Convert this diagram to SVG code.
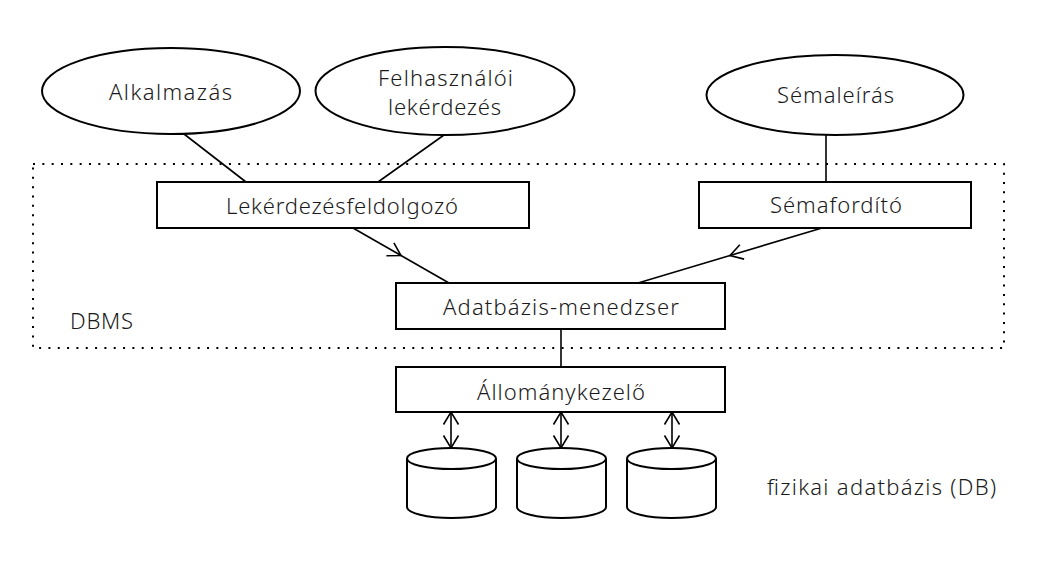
<svg xmlns="http://www.w3.org/2000/svg" width="1056" height="572" viewBox="0 0 1056 572">
<style>
.shape{fill:#fff;stroke:#000;stroke-width:2}
.line{fill:none;stroke:#000;stroke-width:1.6}
.lbl{font-family:"Noto Sans","Liberation Sans",sans-serif;font-size:22px;font-weight:300;fill:#1a1a1a;text-anchor:middle}
.plain{font-family:"Noto Sans","Liberation Sans",sans-serif;font-size:22px;font-weight:300;fill:#1a1a1a}
</style>
<defs>
<marker id="arr" markerUnits="userSpaceOnUse" markerWidth="20" markerHeight="20" refX="14" refY="10" orient="auto" viewBox="0 0 20 20">
<path d="M1.5,2.5 L14,10 L1.5,17.5" fill="none" stroke="#000" stroke-width="1.6"/>
</marker>
<marker id="arrS" markerUnits="userSpaceOnUse" markerWidth="20" markerHeight="20" refX="14" refY="10" orient="auto-start-reverse" viewBox="0 0 20 20">
<path d="M1.5,2.5 L14,10 L1.5,17.5" fill="none" stroke="#000" stroke-width="1.6"/>
</marker>
</defs>
<rect id="dbms-boundary" x="33" y="164" width="971" height="184" fill="none" stroke="#000" stroke-width="2" stroke-dasharray="2 7.33"/>
<g id="connectors">
<line class="line" x1="184" y1="134" x2="246" y2="182"/>
<line class="line" x1="444" y1="135" x2="378" y2="182"/>
<line class="line" x1="826" y1="135" x2="826" y2="182"/>
<path class="line" d="M353,228 L401,255.5 L449,283" marker-mid="url(#arr)"/>
<path class="line" d="M822,228 L730,255.5 L638,283" marker-mid="url(#arr)"/>
<line class="line" x1="561" y1="329" x2="561" y2="367"/>
<line class="line" x1="451" y1="412" x2="451" y2="448" marker-start="url(#arrS)" marker-end="url(#arr)"/>
<line class="line" x1="561" y1="412" x2="561" y2="448" marker-start="url(#arrS)" marker-end="url(#arr)"/>
<line class="line" x1="672" y1="412" x2="672" y2="448" marker-start="url(#arrS)" marker-end="url(#arr)"/>
</g>
<g id="alkalmazas">
<ellipse class="shape" cx="171" cy="91" rx="129" ry="43"/>
<text class="lbl" x="170.5" y="100" textLength="123" lengthAdjust="spacing">Alkalmazás</text>
</g>
<g id="felhasznaloi-lekerdezes">
<ellipse class="shape" cx="445" cy="91" rx="129.5" ry="44"/>
<text class="lbl" x="445.5" y="85.5" textLength="135" lengthAdjust="spacing">Felhasználói</text>
<text class="lbl" x="444.5" y="115" textLength="113" lengthAdjust="spacing">lekérdezés</text>
</g>
<g id="semaleiras">
<ellipse class="shape" cx="835" cy="95" rx="128.5" ry="40"/>
<text class="lbl" x="835.5" y="103" textLength="117" lengthAdjust="spacing">Sémaleírás</text>
</g>
<g id="lekerdezesfeldolgozo">
<rect class="shape" x="157" y="182" width="372" height="46"/>
<text class="lbl" x="342" y="214" textLength="232" lengthAdjust="spacing">Lekérdezésfeldolgozó</text>
</g>
<g id="semaforditas">
<rect class="shape" x="699" y="182" width="272" height="46"/>
<text class="lbl" x="836" y="213" textLength="132" lengthAdjust="spacing">Sémafordító</text>
</g>
<g id="adatbazis-menedzser">
<rect class="shape" x="396" y="283" width="329" height="46"/>
<text class="lbl" x="561" y="315" textLength="236" lengthAdjust="spacing">Adatbázis-menedzser</text>
</g>
<g id="allomanykezelo">
<rect class="shape" x="396" y="367" width="329" height="45"/>
<text class="lbl" x="561" y="400" textLength="168" lengthAdjust="spacing">Állománykezelő</text>
</g>
<g id="db1">
<path class="shape" d="M407,458.5 V507 A44.5,11 0 0 0 496,507 V458.5"/>
<ellipse class="shape" cx="451.5" cy="458.5" rx="44.5" ry="10.5"/>
</g>
<g id="db2">
<path class="shape" d="M517,458.5 V507 A44.5,11 0 0 0 606,507 V458.5"/>
<ellipse class="shape" cx="561.5" cy="458.5" rx="44.5" ry="10.5"/>
</g>
<g id="db3">
<path class="shape" d="M627,458.5 V507 A44.5,11 0 0 0 716,507 V458.5"/>
<ellipse class="shape" cx="671.5" cy="458.5" rx="44.5" ry="10.5"/>
</g>
<g id="dbms-label">
<text class="plain" x="70" y="329" textLength="63" lengthAdjust="spacing">DBMS</text>
</g>
<g id="db-label">
<text class="plain" x="767" y="495" textLength="229" lengthAdjust="spacing">fizikai adatbázis (DB)</text>
</g>
</svg>
